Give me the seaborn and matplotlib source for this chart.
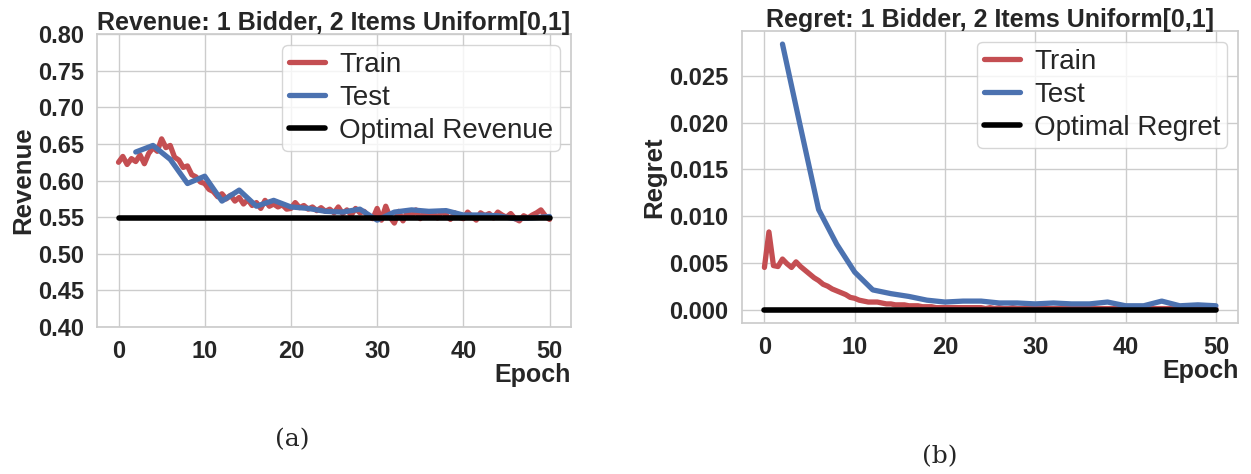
import matplotlib
matplotlib.use("Agg")
import matplotlib.pyplot as plt
import numpy as np
import pandas as pd
import seaborn as sns

sns.set_theme(style="whitegrid")
plt.rcParams["font.family"] = ["Liberation Sans", "DejaVu Sans"]

# train curves are logged every half epoch, test every 2 epochs
train_step = 0.5
test_epochs = list(range(2, 51, 2))

train_revenue = [
    0.625, 0.633, 0.622, 0.630, 0.626, 0.635, 0.623, 0.637, 0.645, 0.640,
    0.657, 0.645, 0.648, 0.632, 0.628, 0.618, 0.620, 0.608, 0.605, 0.598,
    0.596, 0.588, 0.585, 0.578, 0.582, 0.575, 0.580, 0.572, 0.577, 0.568,
    0.574, 0.566, 0.570, 0.562, 0.573, 0.565, 0.568, 0.564, 0.567, 0.561,
    0.562, 0.570, 0.563, 0.566, 0.561, 0.564, 0.559, 0.563, 0.558, 0.561,
    0.556, 0.564, 0.555, 0.560, 0.553, 0.562, 0.556, 0.558, 0.551, 0.548,
    0.562, 0.546, 0.565, 0.550, 0.542, 0.558, 0.545, 0.557, 0.551, 0.560,
    0.548, 0.557, 0.552, 0.556, 0.549, 0.558, 0.553, 0.547, 0.556, 0.550,
    0.548, 0.557, 0.551, 0.546, 0.556, 0.552, 0.555, 0.549, 0.557, 0.553,
    0.550, 0.555, 0.548, 0.545, 0.552, 0.549, 0.553, 0.556, 0.560, 0.552,
    0.547,
]
test_revenue = [
    0.639, 0.648, 0.629, 0.596, 0.606, 0.572, 0.587, 0.565, 0.573, 0.564,
    0.562, 0.558, 0.557, 0.561, 0.546, 0.557, 0.560, 0.558, 0.559, 0.553,
    0.553, 0.552, 0.548, 0.549, 0.551,
]
optimal_revenue = 0.5492

train_regret = [
    0.0045, 0.0083, 0.0047, 0.0046, 0.0054, 0.0049, 0.0045, 0.0051, 0.0046, 0.0042,
    0.0038, 0.0034, 0.0031, 0.0027, 0.0025, 0.0022, 0.0020, 0.0018, 0.0016, 0.0013,
    0.0012, 0.0010, 0.0009, 0.0008, 0.0008, 0.0008, 0.0007, 0.0006, 0.0006, 0.0005,
    0.0005, 0.0005, 0.0004, 0.0004, 0.0004, 0.0003, 0.0003, 0.0003, 0.0002, 0.0002,
    0.0002, 0.0002, 0.0002, 0.0002, 0.0002, 0.0002, 0.0002, 0.0002, 0.0002, 0.0001,
    0.0002, 0.0001, 0.0002, 0.0001, 0.0001, 0.0002, 0.0001, 0.0001, 0.0001, 0.0001,
    0.0001, 0.0001, 0.0001, 0.0001, 0.0001, 0.0001, 0.0001, 0.0001, 0.0001, 0.0001,
    0.0001, 0.0001, 0.0001, 0.0001, 0.0001, 0.0001, 0.0001, 0.0001, 0.0001, 0.0001,
    0.0001, 0.0001, 0.0001, 0.0001, 0.0001, 0.0001, 0.0001, 0.0001, 0.0001, 0.0001,
    0.0001, 0.0001, 0.0001, 0.0001, 0.0001, 0.0001, 0.0001, 0.0001, 0.0001, 0.0001,
    0.0001,
]
test_regret = [
    0.0284, 0.0195, 0.0107, 0.0070, 0.0040, 0.0021, 0.0017, 0.0014, 0.0010, 0.0008,
    0.0009, 0.0009, 0.0007, 0.0007, 0.0006, 0.0007, 0.0006, 0.0006, 0.0008, 0.0004,
    0.0004, 0.0009, 0.0004, 0.0005, 0.0004,
]
optimal_regret = 0.0

red = "#C44E52"
blue = "#4C72B0"

train_epochs = np.arange(len(train_revenue)) * train_step

fig = plt.figure(figsize=(12.51, 4.74), dpi=100)
ax1 = fig.add_axes([0.0775, 0.310, 0.379, 0.618])
ax2 = fig.add_axes([0.593, 0.319, 0.397, 0.616])


def draw(ax, train, test, opt, opt_name, title, ylabel, yticks, yfmt):
    sns.lineplot(x=train_epochs, y=train, ax=ax, color=red, lw=3.8, label="Train")
    sns.lineplot(x=test_epochs, y=test, ax=ax, color=blue, lw=3.8, label="Test")
    sns.lineplot(x=[0, 50], y=[opt, opt], ax=ax, color="black", lw=4, label=opt_name)
    ax.set_title(title, fontsize=18, fontweight="bold", pad=3)
    ax.set_ylabel(ylabel, fontsize=18.5, fontweight="bold", labelpad=2)
    ax.set_xlabel("Epoch", fontsize=18, fontweight="bold", loc="right", labelpad=0)
    ax.set_xticks([0, 10, 20, 30, 40, 50])
    ax.set_xticklabels([str(t) for t in [0, 10, 20, 30, 40, 50]], fontweight="bold")
    ax.set_yticks(yticks)
    ax.set_yticklabels([yfmt.format(t) for t in yticks], fontweight="bold")
    ax.tick_params(labelsize=17)
    ax.legend(loc="upper right", fontsize=20, handlelength=1.3, handletextpad=0.5,
              borderaxespad=0.4, labelspacing=0.25, borderpad=0.25)


draw(ax1, train_revenue, test_revenue, optimal_revenue, "Optimal Revenue",
     "Revenue: 1 Bidder, 2 Items Uniform[0,1]", "Revenue",
     np.arange(0.40, 0.801, 0.05), "{:.2f}")
ax1.set_ylim(0.40, 0.80)

draw(ax2, train_regret, test_regret, optimal_regret, "Optimal Regret",
     "Regret: 1 Bidder, 2 Items Uniform[0,1]", "Regret",
     np.arange(0.0, 0.0251, 0.005), "{:.3f}")

fig.text(292 / 1251, 1 - 440 / 474, "(a)", ha="center", va="center",
         fontsize=18, family="DejaVu Serif")
fig.text(940 / 1251, 1 - 457 / 474, "(b)", ha="center", va="center",
         fontsize=18, family="DejaVu Serif")

fig.savefig("out.png", dpi=100)
